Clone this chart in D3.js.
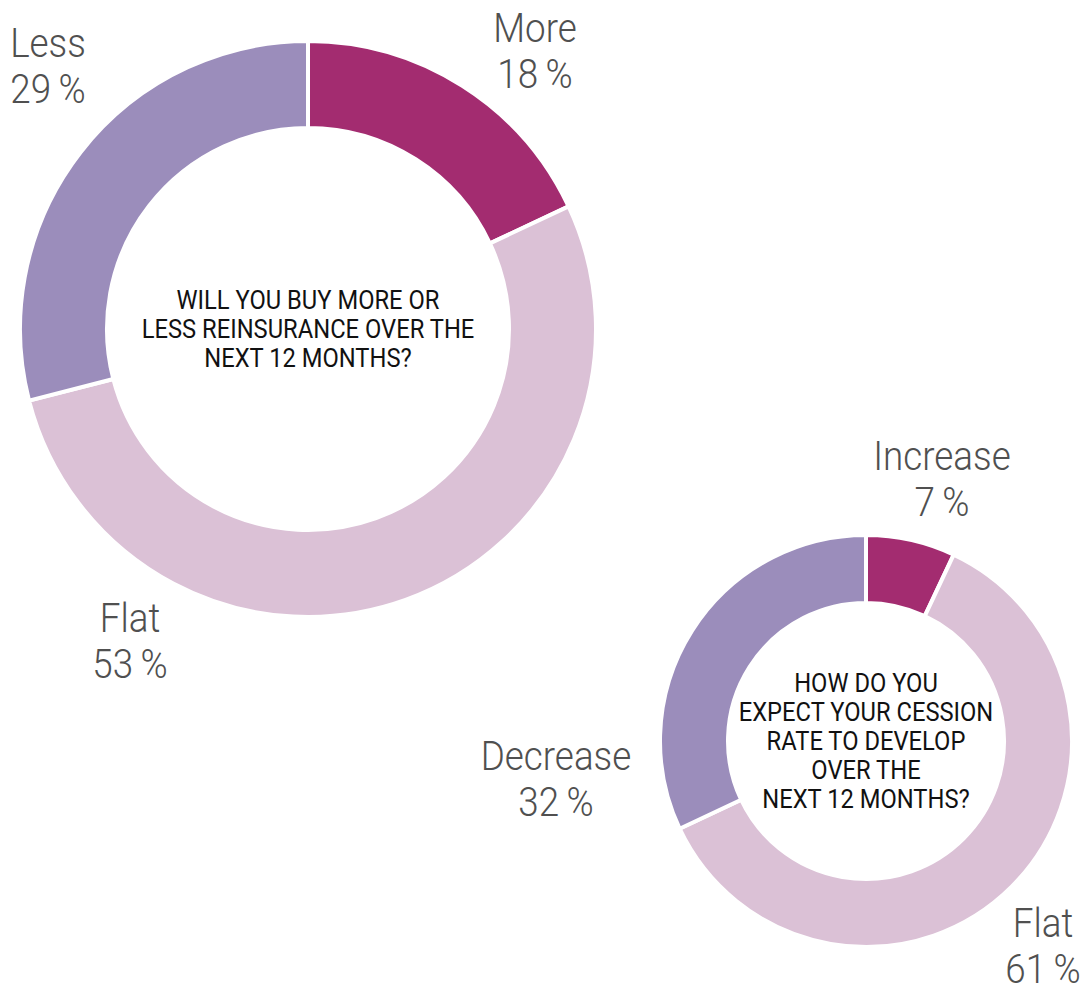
<!DOCTYPE html>
<html>
<head>
<meta charset="utf-8">
<script src="https://cdn.jsdelivr.net/npm/d3@7"></script>
<style>
  body { margin: 0; background: #fff; }
  svg { display: block; }
</style>
</head>
<body>
<svg id="chart"></svg>
<script>
var width = 1086,
    height = 991;

// Data
var buyCategories = ['More', 'Flat', 'Less'];
var buyValues = [18, 53, 29];
var buyTitle = ['WILL YOU BUY MORE OR', 'LESS REINSURANCE OVER THE', 'NEXT 12 MONTHS?'];

var cessionCategories = ['Increase', 'Flat', 'Decrease'];
var cessionValues = [7, 61, 32];
var cessionTitle = ['HOW DO YOU', 'EXPECT YOUR CESSION', 'RATE TO DEVELOP', 'OVER THE', 'NEXT 12 MONTHS?'];

var sliceColors = ['#a32c70', '#dbc1d6', '#9b8dbb'];

var svg = d3.select('#chart')
  .attr('width', width)
  .attr('height', height);

var pie = d3.pie().sort(null).value(function(d) { return d; });

function drawDonut(opt) {
  var g = svg.append('g')
    .attr('transform', 'translate(' + opt.cx + ',' + opt.cy + ')');

  var arc = d3.arc()
    .innerRadius(opt.inner)
    .outerRadius(opt.outer);

  g.selectAll('path')
    .data(pie(opt.values))
    .join('path')
    .attr('d', arc)
    .style('fill', function(d, i) { return sliceColors[i]; })
    .style('stroke', '#fff')
    .style('stroke-width', 4);

  // title in the hole
  var first = -(opt.title.length - 1) / 2 * 29 + 8.5;
  g.selectAll('text.title')
    .data(opt.title)
    .join('text')
    .attr('class', 'title')
    .attr('transform', function(d, i) { return 'translate(0,' + (first + i * 29) + ') scale(0.95,1)'; })
    .attr('text-anchor', 'middle')
    .style('font-family', 'Roboto, sans-serif')
    .style('font-size', '25px')
    .style('fill', '#111')
    .text(function(d) { return d; });

  // category labels outside
  opt.categories.forEach(function(c, i) {
    var p = opt.labelPos[i];
    var lg = g.append('g')
      .attr('transform', 'translate(' + p[0] + ',' + p[1] + ') scale(0.92,1)');
    lg.append('text')
      .attr('text-anchor', 'middle')
      .style('font-family', 'Roboto, sans-serif')
      .style('font-weight', 300)
      .style('font-size', '40px')
      .style('fill', '#505050')
      .text(c);
    lg.append('text')
      .attr('y', 46)
      .attr('text-anchor', 'middle')
      .style('font-family', 'Roboto, sans-serif')
      .style('font-weight', 300)
      .style('font-size', '40px')
      .style('fill', '#505050')
      .text(opt.values[i] + '\u2009%');
  });
}

drawDonut({
  cx: 308, cy: 329, outer: 288, inner: 201,
  categories: buyCategories, values: buyValues, title: buyTitle,
  labelPos: [[227, -287], [-178, 303], [-260, -272]]
});

drawDonut({
  cx: 866, cy: 741, outer: 206, inner: 138,
  categories: cessionCategories, values: cessionValues, title: cessionTitle,
  labelPos: [[76, -271], [177, 196], [-310, 29]]
});
</script>
</body>
</html>
